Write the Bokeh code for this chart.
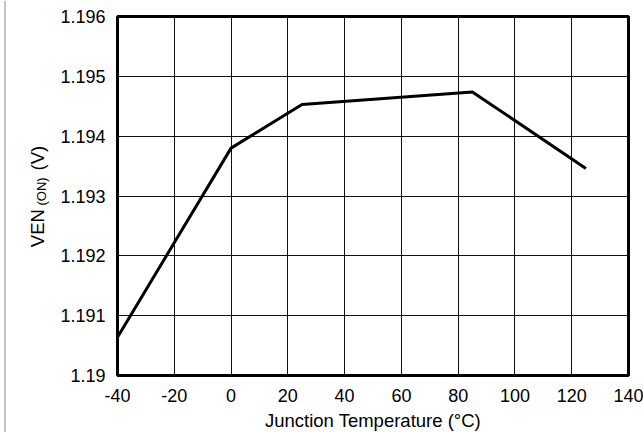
import math
from bokeh.plotting import figure
from bokeh.models import FixedTicker, Label, BoxAnnotation, Range1d, Span
from bokeh.embed import file_html
from bokeh.resources import INLINE

# Enable threshold voltage versus junction temperature
temperature = [-40, 0, 25, 85, 125]
ven_on = [1.19064, 1.19380, 1.19453, 1.19474, 1.19346]

x_ticks = [-40, -20, 0, 20, 40, 60, 80, 100, 120, 140]
x_tick_labels = ["-40", "-20", "0", "20", "40", "60", "80", "100", "120", "140"]
y_ticks = [1.190, 1.191, 1.192, 1.193, 1.194, 1.195, 1.196]
y_tick_labels = ["1.19", "1.191", "1.192", "1.193", "1.194", "1.195", "1.196"]

X_MIN, X_MAX = -40, 140
Y_MIN, Y_MAX = 1.190, 1.196

FONT = "Liberation Sans"
W, H = 643, 432
# plot box inside the canvas, in pixels
BOX_L, BOX_R, BOX_T, BOX_B = 117, 628, 16, 375

# The frame fills the whole canvas; the ranges are padded so the data box
# sits at BOX_* and the axes are pinned to its edges.
kx = (BOX_R - BOX_L) / (X_MAX - X_MIN)
ky = (BOX_B - BOX_T) / (Y_MAX - Y_MIN)
x_range = Range1d(X_MIN - BOX_L / kx, X_MAX + (W - BOX_R) / kx)
y_range = Range1d(Y_MIN - (H - BOX_B) / ky, Y_MAX + BOX_T / ky)

p = figure(
    width=W, height=H, x_range=x_range, y_range=y_range,
    output_backend="svg", toolbar_location=None,
    min_border=0, min_border_left=0, min_border_right=0,
    min_border_top=0, min_border_bottom=0,
)
p.background_fill_color = "white"
p.border_fill_color = "white"
p.outline_line_color = None

xa, ya = p.xaxis[0], p.yaxis[0]
xa.fixed_location = Y_MIN
ya.fixed_location = X_MIN
xa.bounds = (X_MIN, X_MAX)
ya.bounds = (Y_MIN, Y_MAX)
xa.ticker = FixedTicker(ticks=x_ticks)
ya.ticker = FixedTicker(ticks=y_ticks)
xa.major_label_overrides = {t: s for t, s in zip(x_ticks, x_tick_labels)}
ya.major_label_overrides = {t: s for t, s in zip(y_ticks, y_tick_labels)}

for ax in (xa, ya):
    ax.axis_line_color = None
    ax.major_tick_line_color = None
    ax.minor_tick_line_color = None
    ax.major_label_text_font = FONT
    ax.major_label_text_font_size = "18px"
    ax.major_label_text_color = "black"

xa.major_label_standoff = 7
ya.major_label_standoff = 6

xa.axis_label = "Junction Temperature (°C)"
xa.axis_label_text_font = FONT
xa.axis_label_text_font_size = "18.5px"
xa.axis_label_text_font_style = "normal"
xa.axis_label_text_color = "black"
xa.axis_label_standoff = 5

xg, yg = p.xgrid[0], p.ygrid[0]
xg.cross_bounds = (Y_MIN, Y_MAX)
yg.cross_bounds = (X_MIN, X_MAX)
for g in (xg, yg):
    g.grid_line_color = "#111111"
    g.grid_line_width = 1

p.line(temperature, ven_on, line_color="black", line_width=3)

# heavy border round the data box
p.add_layout(BoxAnnotation(left=X_MIN, right=X_MAX, bottom=Y_MIN, top=Y_MAX,
                           fill_alpha=0, line_color="black", line_alpha=1,
                           line_width=3, level="overlay"))

# Rotated y-axis title with a subscripted "(ON)" (pixels, origin bottom-left)
title_parts = [
    ("VEN", 37, H - 246.7, "18.5px"),
    ("(ON)", 40.5, H - 205, "13px"),
    ("(V)", 37, H - 170, "18.5px"),
]
for text, sx, sy, size in title_parts:
    p.add_layout(Label(x=sx, y=sy, x_units="screen", y_units="screen",
                       text=text, angle=math.pi / 2, text_font=FONT,
                       text_font_size=size, text_align="left",
                       text_baseline="alphabetic", text_color="black"))

# thin rule down the left edge of the page
p.add_layout(Span(location=4.5, location_units="screen", dimension="height",
                  line_color="#8c8c8c", line_width=1))

open("out.html", "w").write(file_html(p, INLINE))
